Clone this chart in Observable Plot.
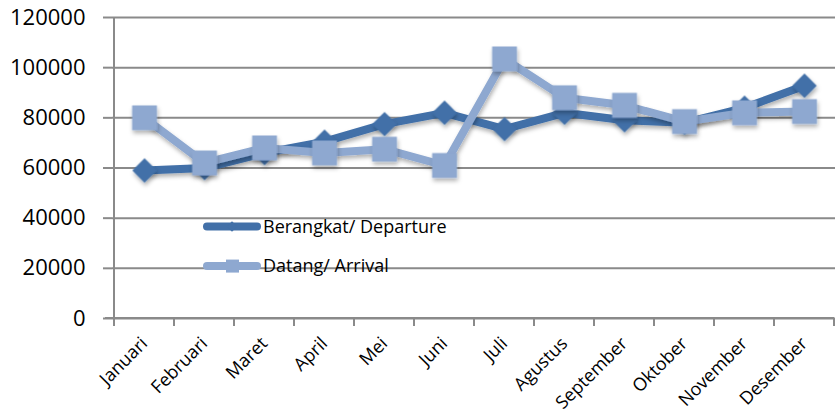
<!DOCTYPE html>
<html>
<head>
<meta charset="utf-8">
<script src="https://cdn.jsdelivr.net/npm/d3@7"></script>
<script src="https://cdn.jsdelivr.net/npm/@observablehq/plot@0.6"></script>
<style>
  html, body { margin: 0; padding: 0; background: white; }
</style>
</head>
<body>
<div id="chart"></div>
<script>
const months = ["Januari", "Februari", "Maret", "April", "Mei", "Juni", "Juli", "Agustus", "September", "Oktober", "November", "Desember"];
const departure = [59000, 60000, 66000, 70500, 77500, 82000, 75500, 82000, 79000, 78000, 84000, 92800];
const arrival = [80000, 62000, 68000, 66000, 67500, 61000, 103500, 88000, 85000, 78500, 82000, 82500];
const yTicks = [0, 20000, 40000, 60000, 80000, 100000, 120000];
const seriesNames = ["Berangkat/ Departure", "Datang/ Arrival"];
const colors = ["#4270a8", "#8ea8d0"];

const dep = months.map((m, i) => ({month: m, value: departure[i]}));
const arr = months.map((m, i) => ({month: m, value: arrival[i]}));
const gridColor = "#8a8a8a";

const chart = Plot.plot({
  width: 837,
  height: 414,
  marginLeft: 112,
  marginRight: 2,
  marginTop: 17,
  marginBottom: 96,
  style: {fontFamily: "'Open Sans', sans-serif", background: "white", color: "black"},
  x: {type: "band", domain: months, padding: 0, label: null},
  y: {domain: [0, 120000], label: null},
  marks: [
    Plot.gridY(yTicks, {stroke: gridColor, strokeOpacity: 1, strokeWidth: 2}),
    Plot.axisY(yTicks, {tickSize: 9, tickPadding: 18, fontSize: 22, stroke: gridColor, strokeWidth: 2, tickFormat: d => String(d), label: null}),
    Plot.axisX({tickSize: 0, tickPadding: 22, tickRotate: -45, fontSize: 18, label: null}),
    Plot.line(dep, {x: "month", y: "value", stroke: colors[0], strokeWidth: 8, strokeLinejoin: "miter"}),
    Plot.dot(dep, {x: "month", y: "value", symbol: "diamond2", r: 11, fill: colors[0]}),
    Plot.line(arr, {x: "month", y: "value", stroke: colors[1], strokeWidth: 8, strokeLinejoin: "miter"}),
    Plot.dot(arr, {x: "month", y: "value", symbol: "square", r: 14, fill: colors[1]})
  ]
});

const svg = d3.select(chart);
const xs = chart.scale("x");
const ys = chart.scale("y");
const bw = xs.bandwidth;
const x0 = xs.apply(months[0]);
const x1 = xs.apply(months[months.length - 1]) + bw;
const yTop = ys.apply(120000);
const yBot = ys.apply(0);

// shadow filter
const defs = svg.insert("defs", ":first-child");
const f = defs.append("filter").attr("id", "sh").attr("x", "-20%").attr("y", "-20%").attr("width", "140%").attr("height", "160%");
f.append("feDropShadow").attr("dx", 1).attr("dy", 3).attr("stdDeviation", 2).attr("flood-color", "#000").attr("flood-opacity", 0.3);
svg.selectAll('g[aria-label="line"], g[aria-label="dot"]').attr("filter", "url(#sh)");

// axis lines and x ticks at band boundaries
const axes = svg.append("g").attr("stroke", gridColor).attr("stroke-width", 2);
axes.append("line").attr("x1", x0).attr("x2", x0).attr("y1", yTop).attr("y2", yBot + 8);
axes.append("line").attr("x1", x0 - 9).attr("x2", x1).attr("y1", yBot).attr("y2", yBot);
for (let i = 0; i <= months.length; i++) {
  const xp = i < months.length ? xs.apply(months[i]) : x1;
  axes.append("line").attr("x1", xp).attr("x2", xp).attr("y1", yBot).attr("y2", yBot + 8);
}

// raise series above axes
svg.selectAll('g[aria-label="line"], g[aria-label="dot"]').raise();

// legend
const lg = svg.append("g").attr("font-family", "'Open Sans', sans-serif").attr("font-size", 18).attr("text-anchor", "start");
const legendY = [ys.apply(36500), ys.apply(20700)];
seriesNames.forEach((name, i) => {
  const cy = legendY[i];
  lg.append("line").attr("x1", 207).attr("x2", 257).attr("y1", cy).attr("y2", cy)
    .attr("stroke", colors[i]).attr("stroke-width", 8).attr("stroke-linecap", "round");
  if (i === 0) {
    lg.append("path").attr("d", d3.symbol(d3.symbolDiamond2, 70)()).attr("transform", `translate(232,${cy})`).attr("fill", colors[i]);
  } else {
    lg.append("rect").attr("x", 226).attr("y", cy - 6.5).attr("width", 13).attr("height", 13).attr("fill", colors[i]);
  }
  lg.append("text").attr("x", 263).attr("y", cy).attr("dy", "0.35em").attr("fill", "black").text(name);
});

document.getElementById("chart").appendChild(chart);
</script>
</body>
</html>
